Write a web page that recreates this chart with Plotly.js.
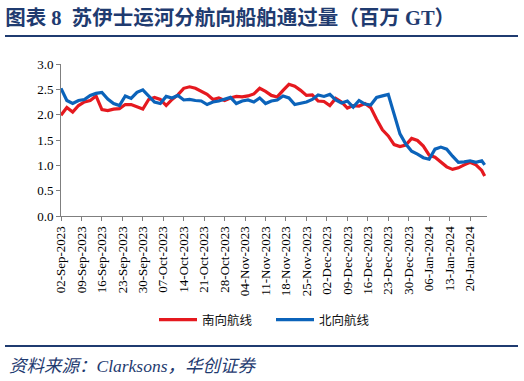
<!DOCTYPE html>
<html>
<head>
<meta charset="utf-8">
<script src="https://cdn.plot.ly/plotly-3.0.1.min.js"></script>
<style>html,body{margin:0;padding:0;background:#fff;}#chart{width:524px;height:381px;}</style>
</head>
<body>
<div id="chart"></div>
<script>
const dates = [
  "2023-09-02","2023-09-04","2023-09-06","2023-09-08","2023-09-10","2023-09-12","2023-09-14","2023-09-16","2023-09-18","2023-09-20","2023-09-22","2023-09-24","2023-09-26","2023-09-28","2023-09-30",
  "2023-10-02","2023-10-04","2023-10-06","2023-10-08","2023-10-10","2023-10-12","2023-10-14","2023-10-16","2023-10-18","2023-10-20","2023-10-22","2023-10-24","2023-10-26","2023-10-28","2023-10-30",
  "2023-11-01","2023-11-03","2023-11-05","2023-11-07","2023-11-09","2023-11-11","2023-11-13","2023-11-15","2023-11-17","2023-11-19","2023-11-21","2023-11-23","2023-11-25","2023-11-27","2023-11-29",
  "2023-12-01","2023-12-03","2023-12-05","2023-12-07","2023-12-09","2023-12-11","2023-12-13","2023-12-15","2023-12-17","2023-12-19","2023-12-21","2023-12-23","2023-12-25","2023-12-27","2023-12-29","2023-12-31",
  "2024-01-02","2024-01-04","2024-01-06","2024-01-08","2024-01-10","2024-01-12","2024-01-14","2024-01-16","2024-01-18","2024-01-20","2024-01-22","2024-01-24","2024-01-25"
];
const southbound = [
  1.99,2.14,2.05,2.18,2.25,2.28,2.37,2.10,2.08,2.11,2.12,2.20,2.20,2.15,2.11,
  2.30,2.34,2.30,2.18,2.30,2.39,2.52,2.55,2.52,2.46,2.40,2.30,2.33,2.28,2.33,
  2.36,2.35,2.37,2.41,2.52,2.46,2.38,2.35,2.48,2.60,2.56,2.48,2.38,2.39,2.27,
  2.26,2.18,2.32,2.25,2.13,2.18,2.17,2.22,2.14,1.91,1.70,1.58,1.41,1.37,1.40,1.53,
  1.49,1.38,1.20,1.16,1.07,0.97,0.92,0.95,1.01,1.06,1.01,0.90,0.79
];
const northbound = [
  2.52,2.28,2.22,2.28,2.30,2.38,2.42,2.44,2.31,2.22,2.18,2.37,2.32,2.44,2.49,
  2.36,2.25,2.22,2.36,2.33,2.38,2.29,2.30,2.28,2.27,2.20,2.25,2.27,2.30,2.34,
  2.22,2.27,2.29,2.25,2.33,2.22,2.27,2.29,2.37,2.33,2.20,2.23,2.25,2.30,2.39,
  2.36,2.40,2.29,2.23,2.27,2.15,2.28,2.21,2.19,2.34,2.37,2.40,2.01,1.62,1.42,1.28,
  1.22,1.15,1.12,1.32,1.36,1.32,1.18,1.06,1.07,1.09,1.06,1.09,1.01
];
const seriesNames = ["南向航线","北向航线"];
const titleText = "<b>图表 8  苏伊士运河分航向船舶通过量（百万 GT）</b>";
const sourceText = "<i>资料来源：Clarksons，华创证券</i>";

const navy = "#1F3B70";
const serif = "'Liberation Serif','Times New Roman','Noto Sans CJK SC',serif";

const traces = [
  {x: dates, y: southbound, name: seriesNames[0], type: "scatter", mode: "lines",
   line: {color: "#E5191F", width: 3.2}},
  {x: dates, y: northbound, name: seriesNames[1], type: "scatter", mode: "lines",
   line: {color: "#0B63BA", width: 3.2}}
];

const layout = {
  width: 524, height: 381,
  margin: {l: 61, r: 37, t: 64, b: 165},
  paper_bgcolor: "#fff", plot_bgcolor: "#fff",
  showlegend: true,
  font: {family: serif, size: 13, color: "#000"},
  title: {text: titleText, x: 0.01, xref: "container", xanchor: "left",
          y: 1 - 18/381, yref: "container", yanchor: "middle",
          font: {family: "'Liberation Serif','Noto Sans CJK SC',serif", size: 20.5, color: navy}},
  xaxis: {
    type: "date",
    range: ["2023-09-02", "2024-01-25 19:00"],
    tick0: "2023-09-02", dtick: 7*24*3600*1000,
    tickformat: "%d-%b-%Y", tickangle: -90,
    ticks: "outside", ticklen: 4, tickcolor: "#7f7f7f",
    showline: true, linecolor: "#7f7f7f", linewidth: 1,
    showgrid: false, zeroline: false,
    tickfont: {family: serif, size: 13, color: "#000"}
  },
  yaxis: {
    range: [0, 3], dtick: 0.5, tickformat: ".1f",
    ticks: "outside", ticklen: 4, tickcolor: "#7f7f7f",
    showline: true, linecolor: "#7f7f7f", linewidth: 1,
    showgrid: false, zeroline: false,
    tickfont: {family: serif, size: 13, color: "#000"}
  },
  legend: {orientation: "h", xref: "container", x: 154/524, xanchor: "left",
           yref: "container", y: 1 - 320/381, yanchor: "middle",
           itemwidth: 38, entrywidth: 64,
           font: {family: "'Noto Sans CJK SC',sans-serif", size: 12.5, color: "#111"}},
  shapes: [
    {type: "line", xref: "paper", yref: "paper", x0: (5-61)/426, x1: (518-61)/426,
     y0: (216-36)/152, y1: (216-36)/152, line: {color: navy, width: 2}},
    {type: "line", xref: "paper", yref: "paper", x0: (5-61)/426, x1: (518-61)/426,
     y0: (216-346)/152, y1: (216-346)/152, line: {color: navy, width: 2}}
  ],
  annotations: [
    {text: sourceText, xref: "paper", yref: "paper", x: (7-61)/426, y: (216-366)/152,
     xanchor: "left", yanchor: "middle", showarrow: false,
     font: {family: "'Liberation Serif','Noto Sans CJK SC',serif", size: 17.5, color: navy}}
  ]
};

Plotly.newPlot("chart", traces, layout, {displayModeBar: false, staticPlot: true});
</script>
</body>
</html>
